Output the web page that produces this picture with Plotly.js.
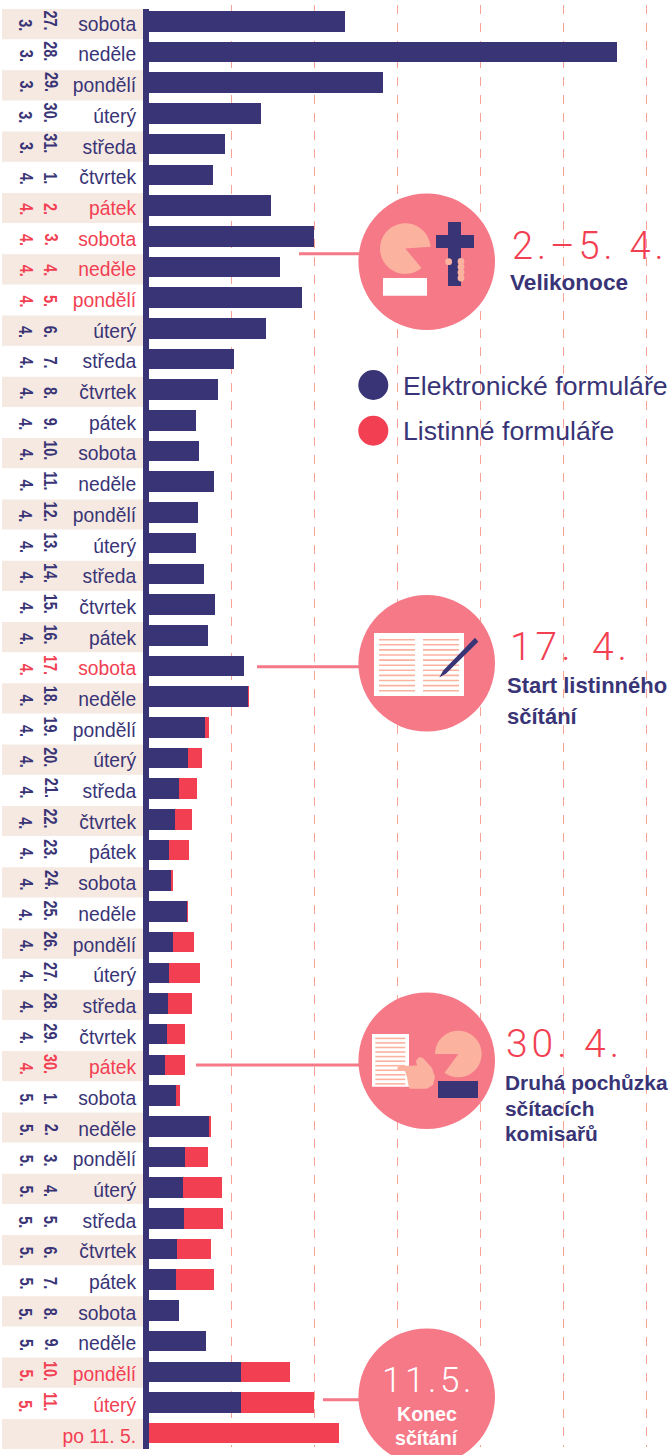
<!DOCTYPE html>
<html lang="cs">
<head>
<meta charset="utf-8">
<title>Sčítání 2021</title>
<script src="https://cdn.plot.ly/plotly-3.0.1.min.js"></script>
<style>html,body{margin:0;padding:0;background:#fff}#chart{width:669px;height:1455px}</style>
</head>
<body>
<div id="chart"></div>
<script>
const months = ['3.','3.','3.','3.','3.','4.','4.','4.','4.','4.','4.','4.','4.','4.','4.','4.','4.','4.','4.','4.','4.','4.','4.','4.','4.','4.','4.','4.','4.','4.','4.','4.','4.','4.','4.','5.','5.','5.','5.','5.','5.','5.','5.','5.','5.','5.',''];
const days = ['27.','28.','29.','30.','31.','1.','2.','3.','4.','5.','6.','7.','8.','9.','10.','11.','12.','13.','14.','15.','16.','17.','18.','19.','20.','21.','22.','23.','24.','25.','26.','27.','28.','29.','30.','1.','2.','3.','4.','5.','6.','7.','8.','9.','10.','11.',''];
const weekdays = ['sobota','neděle','pondělí','úterý','středa','čtvrtek','pátek','sobota','neděle','pondělí','úterý','středa','čtvrtek','pátek','sobota','neděle','pondělí','úterý','středa','čtvrtek','pátek','sobota','neděle','pondělí','úterý','středa','čtvrtek','pátek','sobota','neděle','pondělí','úterý','středa','čtvrtek','pátek','sobota','neděle','pondělí','úterý','středa','čtvrtek','pátek','sobota','neděle','pondělí','úterý','po 11. 5.'];
const electronic = [237.0,564.7,282.8,135.8,92.4,78.3,147.5,199.6,159.0,185.5,142.2,103.3,84.0,57.1,61.1,79.5,59.9,57.8,67.1,80.7,72.3,115.3,120.5,68.3,47.8,37.3,31.8,25.3,27.3,46.6,30.1,25.3,24.1,22.9,20.5,33.4,73.1,44.2,41.8,43.0,34.6,33.7,37.0,69.5,111.7,111.7,0];
const paperForms = [0,0,0,0,0,0,0,0,0,0,0,0,0,0,0,0,0,0,0,0,0,0,0.5,4.8,17.2,21.7,20.5,23.4,2.0,0.8,24.6,37.0,28.6,21.7,24.1,4.5,2.0,28.1,46.6,46.6,41.3,45.8,0.4,0.4,59.4,88.0,229.8];
const highlighted = [6,7,8,9,21,34,44,45,46];
const gridValues = [100,200,300,400,500,600];
const seriesNames = ['Elektronické formuláře','Listinné formuláře'];

const NAVY='#393476', RED='#f23f52', PINK='#f67988', PEACH='#fbb29f', TAN='#f6e9e2', GRID='#f9a396';
const FONT='Liberation Sans, Arial, sans-serif';
const W=669,H=1455;
const X=x=>x/W, Y=y=>1-y/H;
const idx=weekdays.map((_,i)=>i);
const colorOf=i=>highlighted.includes(i)?RED:NAVY;

const shapes=[], annotations=[];
const base={xref:'paper',yref:'paper',layer:'above'};
function rect(x0,y0,x1,y1,c){shapes.push({...base,type:'rect',x0:X(x0),x1:X(x1),y0:Y(y0),y1:Y(y1),fillcolor:c,line:{width:0}});}
function circ(cx,cy,r,c){shapes.push({...base,type:'circle',x0:X(cx-r),x1:X(cx+r),y0:Y(cy-r),y1:Y(cy+r),fillcolor:c,line:{width:0}});}
function poly(pts,c){shapes.push({...base,type:'path',path:'M'+pts.map(p=>X(p[0]).toFixed(5)+' '+Y(p[1]).toFixed(5)).join(' L')+' Z',fillcolor:c,line:{width:0}});}
function pie(cx,cy,r,a0,a1,c){ // angles in degrees, clockwise on screen; a0..a1 is the filled arc
  const p=[[cx,cy]];for(let a=a0;a<=a1+0.01;a+=6){p.push([cx+r*Math.cos(a*Math.PI/180),cy+r*Math.sin(a*Math.PI/180)]);}poly(p,c);}
function txt(text,x,base_y,size,color,opt={}){
  const anchor=opt.anchor||'left';
  annotations.push({xref:'paper',yref:'paper',x:X(anchor==='left'?x-1.5:x),y:Y(base_y),xanchor:anchor,yanchor:'bottom',yshift:-(opt.desc??0.25)*size,
    text,showarrow:false,borderpad:0,font:{family:opt.family||FONT,size,color,weight:opt.weight||400}});
}
const BIG='Roboto, Liberation Sans, sans-serif';
const sp=s=>s.split('').join('\u200a');

// row bands
idx.forEach(i=>{ if(i%2===0) shapes.push({type:'rect',xref:'paper',yref:'paper',layer:'below',x0:X(2),x1:X(143),y0:Y(9+30.65*i),y1:Y(39.2+30.65*i),fillcolor:TAN,line:{width:0}}); });
// axis bar
rect(143,9,149,1449,NAVY);

// connectors
rect(299,252.2,359,255.2,PINK);
rect(257,665.3,359,668.3,PINK);
rect(196,1063.6,359,1066.6,PINK);
rect(323,1398.2,359,1401.2,PINK);

// circle 1 - Velikonoce
circ(426.7,261.7,68.3,PINK);
pie(405.3,248.6,25.3,50,360,PEACH);
rect(383,278,427,295.8,'#ffffff');
rect(448,222,461,286,NAVY);
rect(436,235,474,248,NAVY);
circ(448.7,261.7,3.4,PEACH);
[261.5,267,272.5,278].forEach(y=>circ(461,y,3.4,PEACH));

// circle 2 - book
circ(426.7,663.3,68.3,PINK);
rect(374,633,464,696,'#ffffff');
for(let k=0;k<11;k++){const y=639.7+5.1*k;rect(379,y-0.8,415,y+0.8,PEACH);rect(423,y-0.8,459,y+0.8,PEACH);}
poly([[439.3,677.6],[443.2,670.5],[475,637.7],[478.3,641.7],[446.2,673.5]],NAVY);

// circle 3 - hand
circ(426.7,1060.7,68.3,PINK);
rect(372,1034,409,1086.7,'#ffffff');
for(let k=0;k<11;k++){const y=1038.4+4.55*k;rect(375.3,y-0.8,405.3,y+0.8,PEACH);}
pie(458.3,1054,23.3,-180,130,PEACH);
rect(438,1081,478,1098,NAVY);
poly([[399.5,1066],[417,1065.5],[416,1061],[419,1057],[423,1058],[432,1068],[435,1077],[433,1085],[427,1088.7],[409.5,1088.7],[408,1083],[407,1077],[405,1071],[399.5,1071]],PEACH);
circ(400,1068.5,2.6,PEACH);

// circle 4
circ(426.7,1396.7,68.3,PINK);

// legend
circ(373.3,385,15,NAVY);
circ(373.3,430.7,15,RED);
txt(seriesNames[0],403,395,26.6,NAVY);
txt(seriesNames[1],403,440.5,26.6,NAVY);

// callouts
txt(sp('2.–5. 4.'),512,259.3,38,RED,{family:BIG,weight:300});
txt('Velikonoce',510,290.5,22.6,NAVY,{weight:700});
txt('1\u200a7\u200a.\u200a\u200a \u200a4\u200a.',510,661.7,39,RED,{family:BIG,weight:300});
txt('Start listinného',507.5,693.7,22,NAVY,{weight:700});
txt('sčítání',507.5,724.2,22,NAVY,{weight:700});
txt(sp('30. 4.'),506.5,1058.3,39,RED,{family:BIG,weight:300});
txt('Druhá pochůzka',505,1089.7,20.9,NAVY,{weight:700});
txt('sčítacích',505,1115.5,20.9,NAVY,{weight:700});
txt('komisařů',505,1140.3,20.9,NAVY,{weight:700});
txt(sp('11.5.'),426.7,1393,35,'#ffffff',{family:BIG,weight:300,anchor:'center'});
txt('Konec',426.7,1421,19.6,'#ffffff',{weight:700,anchor:'center'});
txt('sčítání',426.7,1445,19.6,'#ffffff',{weight:700,anchor:'center'});

// rotated month and day numbers
const firstRotated=annotations.length;
const NARROW=0.78;
idx.forEach(i=>{
  if(!days[i]) return;
  [[months[i],26.3],[days[i],50.7]].forEach(([t,x])=>{
    annotations.push({xref:'paper',yref:'y',x:X(x),y:i+10.2/30.69,xanchor:'center',yanchor:'bottom',textangle:90,text:t,showarrow:false,borderpad:0,
      font:{family:FONT,size:18.5,weight:700,color:colorOf(i)}});
  });
});

const traces=[
  {type:'bar',orientation:'h',name:seriesNames[0],y:idx,x:electronic,marker:{color:NAVY}},
  {type:'bar',orientation:'h',name:seriesNames[1],y:idx,x:paperForms,marker:{color:RED}}
];
const layout={
  width:W,height:H,margin:{l:0,r:0,t:0,b:0},paper_bgcolor:'#fff',plot_bgcolor:'rgba(0,0,0,0)',showlegend:false,
  barmode:'stack',bargap:0.33,
  xaxis:{domain:[0,1],range:[-178.67,627.33],tickmode:'array',tickvals:gridValues,showticklabels:false,ticks:'',showgrid:true,gridcolor:GRID,griddash:'dash',gridwidth:1,zeroline:false,fixedrange:true},
  yaxis:{domain:[8/H,1450/H],range:[46.45,-0.534],anchor:'free',position:143/W,tickmode:'array',tickvals:idx.map(i=>i+0.085),
    ticktext:idx.map(i=>`<span style="color:${colorOf(i)}">${weekdays[i]}</span>`),
    tickfont:{family:FONT,size:19.3,color:NAVY},ticks:'outside',ticklen:3,tickcolor:'rgba(0,0,0,0)',showgrid:false,zeroline:false,showline:false,automargin:false,fixedrange:true},
  shapes,annotations,hovermode:false
};
Plotly.newPlot('chart',traces,layout,{displayModeBar:false,staticPlot:true}).then(gd=>{
  // the date numbers of the reference are condensed: squeeze them along their own direction, keeping their lower end
  gd.querySelectorAll('.annotation').forEach(g=>{
    if(+g.getAttribute('data-index')<firstRotated) return;
    const t=g.querySelector('text'); if(!t) return;
    const w=t.getComputedTextLength(), nw=w*NARROW;
    t.setAttribute('textLength',nw);
    t.setAttribute('lengthAdjust','spacingAndGlyphs');
    t.setAttribute('x',(+t.getAttribute('x'))+(w-nw)/2);
  });
});
</script>
</body>
</html>
